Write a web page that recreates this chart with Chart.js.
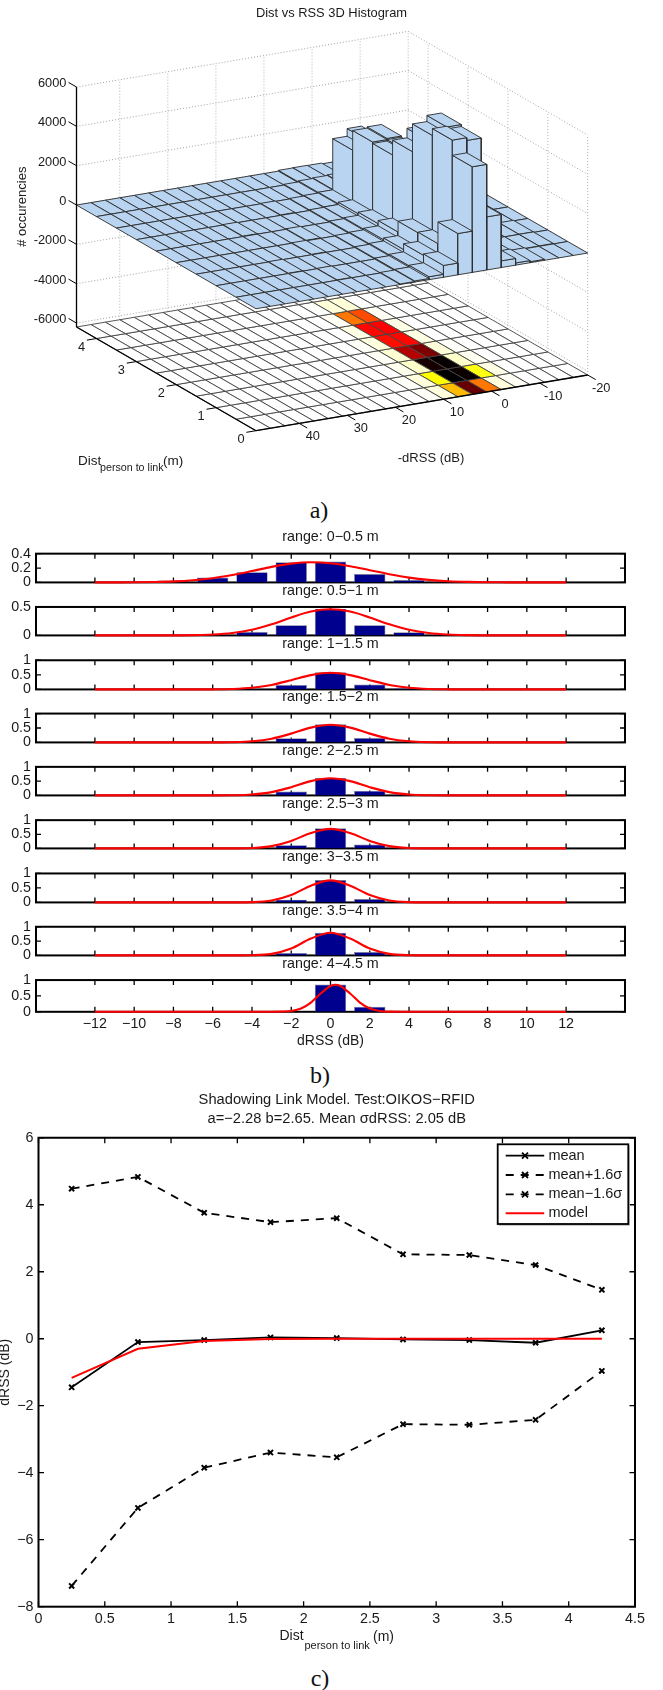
<!DOCTYPE html>
<html><head><meta charset="utf-8">
<script src="https://cdn.jsdelivr.net/npm/chart.js@4"></script>
<style>
html,body{margin:0;padding:0;background:#fff;width:663px;height:1690px;overflow:hidden}
canvas{position:absolute;left:0}
.cap{position:absolute;font:24px "Liberation Serif",serif;color:#111;line-height:28px;transform:translate(-50%,-50%)}
</style></head><body>
<div class="cap" style="left:319px;top:510px">a)</div>
<div class="cap" style="left:320px;top:1075px">b)</div>
<div class="cap" style="left:320px;top:1678px">c)</div>
<script>
/* ---------- panel a: 3D histogram ---------- */
const rBinStart = -20, rBinWidth = 3;           // -dRSS bins (23 columns, dB)
const distBinWidth = 0.5;                       // distance bins (9 rows, m)
const rTicks = [-20,-10,0,10,20,30,40];
const distTicks = [0,1,2,3,4];
const zTicks = [6000,4000,2000,0,-2000,-4000,-6000];
const barRow0 = [0,0,0,50,110,340,2700,5370,2100,600,150,60,30,0,0,0,0,0,0,0,0,0,0];
const barRow1 = [0,25,20,30,70,250,6000,6140,1000,530,120,50,0,0,0,20,0,0,0,0,0,0,0];
const barRow2 = [0,30,25,0,50,180,6100,5790,970,240,90,40,0,0,0,0,0,20,0,0,0,0,0];
const barRow3 = [0,0,0,0,40,130,4860,4380,420,150,70,30,0,0,25,0,0,0,0,0,0,0,0];
const barRow4 = [0,0,0,0,30,100,3700,3630,260,100,50,0,0,30,0,0,0,0,0,0,0,0,0];
const barRow5 = [0,0,0,0,0,70,3760,3700,180,60,40,0,0,0,0,0,25,0,0,0,0,0,0];
const barRow6 = [0,0,0,0,0,50,3090,2700,100,60,30,0,25,0,0,0,0,0,0,0,0,0,0];
const barRow7 = [0,0,0,0,0,30,150,120,90,40,0,0,0,0,0,0,0,0,0,0,0,0,0];
const barRow8 = [0,0,0,0,0,0,40,50,40,0,0,0,0,0,0,0,0,0,0,0,0,0,0];
const barRows = [barRow0,barRow1,barRow2,barRow3,barRow4,barRow5,barRow6,barRow7,barRow8];
const heatRow0 = [0,0,0,0,60,200,2700,5100,2100,200,40,0,0,0,0,0,0,0,0,0,0,0,0];
const heatRow1 = [0,0,0,0,150,1400,5900,6000,1500,200,30,0,0,0,0,0,0,0,0,0,0,0,0];
const heatRow2 = [0,0,0,0,80,320,5950,5800,320,100,0,0,0,0,0,0,0,0,0,0,0,0,0];
const heatRow3 = [0,0,0,0,30,220,4900,4400,260,60,0,0,0,0,0,0,0,0,0,0,0,0,0];
const heatRow4 = [0,0,0,0,0,170,3700,3630,200,30,0,0,0,0,0,0,0,0,0,0,0,0,0];
const heatRow5 = [0,0,0,0,0,140,3760,3700,150,0,0,0,0,0,0,0,0,0,0,0,0,0,0];
const heatRow6 = [0,0,0,0,0,60,3090,2700,60,0,0,0,0,0,0,0,0,0,0,0,0,0,0];
const heatRow7 = [0,0,0,0,0,0,220,220,15,0,0,0,0,0,0,0,0,0,0,0,0,0,0];
const heatRow8 = [0,0,0,0,0,0,0,0,0,0,0,0,0,0,0,0,0,0,0,0,0,0,0];
const heatRows = [heatRow0,heatRow1,heatRow2,heatRow3,heatRow4,heatRow5,heatRow6,heatRow7,heatRow8];

/* ---------- panel b: histograms per distance range ---------- */
const rangeTitles = ['range: 0−0.5 m','range: 0.5−1 m','range: 1−1.5 m','range: 1.5−2 m','range: 2−2.5 m','range: 2.5−3 m','range: 3−3.5 m','range: 3.5−4 m','range: 4−4.5 m'];
const binCenters = [-12,-10,-8,-6,-4,-2,0,2,4,6,8,10,12];
const hist1 = [.004,.006,.028,.067,.143,.28,.29,.118,.034,.008,.003,0,0];
const hist2 = [.004,0,.003,.025,.06,.18,.47,.18,.055,.02,.003,0,0];
const hist3 = [0,0,0,.01,.03,.15,.585,.17,.05,.01,0,0,0];
const hist4 = [0,0,0,0,.01,.147,.63,.15,.015,0,0,0,0];
const hist5 = [0,0,0,0,.02,.137,.61,.158,.05,0,0,0,0];
const hist6 = [0,0,0,0,.01,.115,.715,.137,.01,0,0,0,0];
const hist7 = [0,0,0,0,0,.095,.77,.115,.01,0,0,0,0];
const hist8 = [0,0,0,0,0,.085,.79,.115,.01,0,0,0,0];
const hist9 = [0,0,0,0,0,0,.86,.16,0,0,0,0,0];
const histograms = [hist1,hist2,hist3,hist4,hist5,hist6,hist7,hist8,hist9];
const fitX = [-12,-11,-10,-9,-8,-7,-6,-5,-4,-3,-2,-1,0,1,2,3,4,5,6,7,8,9,10,11,12];
const fit1 = [0,.001,.002,.006,.014,.031,.059,.103,.158,.216,.261,.28,.266,.226,.17,.114,.067,.035,.016,.007,.0025,.001,0,0,0];
const fit2 = [0,0,0,0,.001,.0045,.015,.043,.101,.196,.315,.419,.46,.419,.315,.196,.101,.043,.015,.0045,.001,0,0,0,0];
const fit3 = [0,0,0,0,0,.0005,.003,.015,.055,.153,.318,.49,.57,.49,.318,.153,.055,.015,.003,.0005,0,0,0,0,0];
const fit4 = [0,0,0,0,0,0,.001,.008,.039,.129,.305,.513,.61,.513,.305,.129,.039,.008,.001,0,0,0,0,0,0];
const fit5 = [0,0,0,0,0,0,.001,.006,.032,.115,.288,.5,.6,.5,.288,.115,.032,.006,.001,0,0,0,0,0,0];
const fit6 = [0,0,0,0,0,0,0,.002,.015,.081,.266,.544,.69,.544,.266,.081,.015,.002,0,0,0,0,0,0,0];
const fit7 = [0,0,0,0,0,0,0,.001,.0095,.065,.254,.578,.76,.578,.254,.065,.0095,.001,0,0,0,0,0,0,0];
const fit8 = [0,0,0,0,0,0,0,0,.007,.055,.242,.588,.79,.588,.242,.055,.007,0,0,0,0,0,0,0,0];
const fit9X = [-12,-4,-3,-2.5,-2,-1.5,-1,-.5,0,.25,.5,1,1.5,2,2.5,3,4,12];
const fit9 = [0,0,0,.005,.026,.102,.289,.576,.814,.85,.814,.576,.289,.102,.026,.005,0,0];
const fits = [fit1,fit2,fit3,fit4,fit5,fit6,fit7,fit8,fit9];
const binXTicks = [-12,-10,-8,-6,-4,-2,0,2,4,6,8,10,12];
const yMaxes = [.4,.5,1,1,1,1,1,1,1];
const yTickSets = [[0,.2,.4],[0,.5],[0,.5,1],[0,.5,1],[0,.5,1],[0,.5,1],[0,.5,1],[0,.5,1],[0,.5,1]];

/* ---------- panel c: link model ---------- */
const distCenters = [.25,.75,1.25,1.75,2.25,2.75,3.25,3.75,4.25];
const meanValues = [-1.45,-.1,-.04,.04,.02,-.02,-.04,-.12,.25];
const upperValues = [4.48,4.83,3.76,3.48,3.6,2.52,2.5,2.2,1.46];
const lowerValues = [-7.38,-5.05,-3.85,-3.4,-3.54,-2.55,-2.57,-2.42,-.96];
const modelValues = [-1.17,-.3,-.07,-.01,0,0,0,0,0];
const cXTicks = [0,.5,1,1.5,2,2.5,3,3.5,4,4.5];
const cYTicks = [-8,-6,-4,-2,0,2,4,6];

/* ---------- shared ---------- */
const FONT = '"Liberation Sans",Arial,sans-serif';
const INK = '#1a1a1a';
Chart.defaults.font.family = FONT;
Chart.defaults.color = INK;
Chart.defaults.animation = false;
const minus = v => String(v).replace('-', '−');
function txt(ctx,s,x,y,size,align){ctx.save();ctx.font=size+'px '+FONT;ctx.fillStyle=INK;ctx.textAlign=align||'left';ctx.textBaseline='middle';ctx.fillText(s,x,y);ctx.restore();}
function addCanvas(top,h){const c=document.createElement('canvas');c.width=663;c.height=h;c.style.top=top+'px';c.style.width='663px';c.style.height=h+'px';document.body.appendChild(c);return c;}

/* plugin: MATLAB style box with inward ticks on all sides */
const boxTicks = {id:'boxTicks',beforeDatasetsDraw(chart,a,o){
  const {ctx,chartArea:{left,right,top,bottom}}=chart,sx=chart.scales.x,sy=chart.scales.y,t=o.len;
  ctx.save();ctx.strokeStyle='#000';ctx.lineWidth=o.lw;ctx.strokeRect(left,top,right-left,bottom-top);
  ctx.lineWidth=1.3;ctx.beginPath();
  sx.ticks.forEach(k=>{const p=sx.getPixelForValue(k.value);ctx.moveTo(p,top);ctx.lineTo(p,top+t);ctx.moveTo(p,bottom);ctx.lineTo(p,bottom-t);});
  sy.ticks.forEach(k=>{const p=sy.getPixelForValue(k.value);ctx.moveTo(left,p);ctx.lineTo(left+t,p);ctx.moveTo(right,p);ctx.lineTo(right-t,p);});
  ctx.stroke();ctx.restore();}};

/* ---------- panel a chart ---------- */
const rMax = rBinStart + rBinWidth*barRow0.length;
const distMax = distBinWidth*barRows.length, zFloor = -6200;
function P(d,r,z){return {x:256+(rMax-r)*(331.7/69)-d*(179.5/4.5), y:430.7-(rMax-r)*(55.7/69)-d*(103.7/4.5)-(z-zFloor)*0.01967};}
function heatColor(v){const t=v/6000;
  if(t<=.25){return `rgb(255,255,${Math.round(255*(1-t/.25))})`;}
  if(t<=.625){return `rgb(255,${Math.round(255*(1-(t-.25)/.375))},0)`;}
  return `rgb(${Math.round(255*(1-(t-.625)/.375))},0,0)`;}
const BLUE='#b9d4f0',EDGE='#2a2a2a';
const layers=[];
function poly(pts,fill,edge,w){layers.push({data:[...pts,pts[0]],showLine:true,fill:'shape',backgroundColor:fill,borderColor:edge,borderWidth:w,pointRadius:0,tension:0});}
function seg(a,b,col,w,dash){layers.push({data:[a,b],showLine:true,fill:false,borderColor:col,borderWidth:w,borderDash:dash||[],pointRadius:0,tension:0});}
const DOT=[1,2];
// walls
zTicks.forEach(z=>{seg(P(distMax,rMax,z),P(distMax,rBinStart,z),'#999',.9,DOT);seg(P(distMax,rBinStart,z),P(0,rBinStart,z),'#999',.9,DOT);});
rTicks.forEach(r=>seg(P(distMax,r,zFloor),P(distMax,r,6000),'#aaa',.9,DOT));
distTicks.forEach(d=>seg(P(d,rBinStart,zFloor),P(d,rBinStart,6000),'#aaa',.9,DOT));
// heat floor
heatRows.forEach((row,i)=>row.forEach((v,c)=>{const d0=i*distBinWidth,d1=d0+distBinWidth,r0=rBinStart+c*rBinWidth,r1=r0+rBinWidth;
  poly([P(d0,r0,zFloor),P(d0,r1,zFloor),P(d1,r1,zFloor),P(d1,r0,zFloor)],heatColor(v),'#444',.9);}));
// bars, back to front
for(let i=barRows.length-1;i>=0;i--){const row=barRows[i];
  row.forEach((v,c)=>{const d0=i*distBinWidth,d1=d0+distBinWidth,r0=rBinStart+c*rBinWidth,r1=r0+rBinWidth;
    if(v>0){poly([P(d0,r1,0),P(d1,r1,0),P(d1,r1,v),P(d0,r1,v)],BLUE,EDGE,.9);
            poly([P(d0,r0,0),P(d0,r1,0),P(d0,r1,v),P(d0,r0,v)],BLUE,EDGE,.9);}
    poly([P(d0,r0,v),P(d0,r1,v),P(d1,r1,v),P(d1,r0,v)],BLUE,EDGE,.9);});}
// axes
seg(P(distMax,rMax,6000),P(distMax,rMax,zFloor),'#000',1.3);
seg(P(distMax,rMax,zFloor),P(0,rMax,zFloor),'#000',1.3);
seg(P(0,rMax,zFloor),P(0,rBinStart,zFloor),'#000',1.3);
zTicks.forEach(z=>seg(P(distMax,rMax,z),P(distMax+.2,rMax,z),'#000',1));
distTicks.forEach(d=>seg(P(d,rMax,zFloor),P(d,rMax+2,zFloor),'#000',1));
rTicks.forEach(r=>seg(P(0,r,zFloor),P(-.2,r,zFloor),'#000',1));
const labels3D={id:'labels3D',afterDraw(chart){const ctx=chart.ctx,sx=chart.scales.x,sy=chart.scales.y;
  const px=p=>({x:sx.getPixelForValue(p.x),y:sy.getPixelForValue(p.y)});
  txt(ctx,'Dist vs RSS 3D Histogram',331.5,13,12.9,'center');
  zTicks.forEach(z=>{const p=px(P(distMax,rMax,z));txt(ctx,String(z),66.4,p.y-3.5,12.8,'right');});
  distTicks.forEach(d=>{const p=px(P(d,rMax,zFloor));txt(ctx,String(d),p.x-15,p.y+9,12.8,'center');});
  rTicks.forEach(r=>{const p=px(P(0,r,zFloor));txt(ctx,String(r),p.x+13.5,p.y+13,12.8,'center');});
  txt(ctx,'-dRSS (dB)',431,458,13,'center');
  txt(ctx,'Dist',78,461,13.5);txt(ctx,'person to link',100,467.7,10.7);txt(ctx,'(m)',163,461,13.5);
  ctx.save();ctx.translate(22,206.7);ctx.rotate(-Math.PI/2);txt(ctx,'# occurencies',0,0,13,'center');ctx.restore();}};
new Chart(addCanvas(0,500),{type:'scatter',data:{datasets:layers.slice().reverse()},plugins:[labels3D],
  options:{responsive:false,devicePixelRatio:1,animation:false,layout:{autoPadding:false,padding:0},
    plugins:{legend:{display:false},tooltip:{enabled:false}},
    scales:{x:{display:false,min:0,max:663},y:{display:false,min:0,max:500,reverse:true}}}});

/* ---------- panel b charts ---------- */
rangeTitles.forEach((title,i)=>{
  const T=553.7+53.3*i, hBox=31.7, last=i===rangeTitles.length-1, titleH=24.8;
  const top=Math.floor(T-titleH), xH=last?37:0;
  const H=Math.ceil(T+hBox+xH+10)-top;
  const padBottom=H-(T+hBox-top)-xH, padTop=T-titleH-top;
  const fitXs=i===8?fit9X:fitX;
  new Chart(addCanvas(top,H),{type:'bar',
    data:{datasets:[
      {type:'line',order:0,data:fitXs.map((x,k)=>({x,y:fits[i][k]})),borderColor:'#ff0000',borderWidth:2.1,pointRadius:0,cubicInterpolationMode:'monotone',clip:false},
      {type:'bar',order:1,data:binCenters.map((x,k)=>({x,y:histograms[i][k]})),backgroundColor:'#00008f',borderColor:'#80808f',borderWidth:.7,barPercentage:.8,categoryPercentage:1}
    ]},
    plugins:[boxTicks],
    options:{responsive:false,devicePixelRatio:1,animation:false,
      layout:{autoPadding:false,padding:{left:0,right:38,top:padTop,bottom:padBottom}},
      plugins:{legend:{display:false},tooltip:{enabled:false},boxTicks:{len:5,lw:2},
        title:{display:true,fullSize:false,text:title,color:INK,font:{size:14.3,weight:'normal',lineHeight:1.2},padding:{top:0,bottom:7.6}}},
      scales:{
        x:{type:'linear',offset:false,min:-15,max:15,grid:{display:false,drawTicks:false},border:{display:false},
          afterBuildTicks:s=>{s.ticks=binXTicks.map(value=>({value}));},
          afterFit:s=>{s.height=xH;},
          ticks:{display:last,autoSkip:false,maxRotation:0,padding:4,font:{size:14.3},color:INK,callback:v=>minus(v)},
          title:{display:last,text:'dRSS (dB)',color:INK,font:{size:14,lineHeight:1.15},padding:0}},
        y:{min:0,max:yMaxes[i],grid:{display:false,drawTicks:false},border:{display:false},
          afterBuildTicks:s=>{s.ticks=yTickSets[i].map(value=>({value}));},
          afterFit:s=>{s.width=36;},
          ticks:{padding:5,autoSkip:false,font:{size:14.3},color:INK,callback:v=>String(v)}}
      }}});
});

/* ---------- panel c chart ---------- */
const legendLabels=['mean','mean+1.6σ','mean−1.6σ','model'];
const cTop=1091;
const legendC={id:'legendC',afterDatasetsDraw(chart){const ctx=chart.ctx;
  const L=497.7,R=628.3,T=1144.3-cTop,B=1224-cTop;
  ctx.save();ctx.fillStyle='#bbb';ctx.fillRect(L+1,T+1,R-L+.5,B-T+.8);ctx.fillStyle='#fff';ctx.fillRect(L,T,R-L,B-T);
  ctx.strokeStyle='#000';ctx.lineWidth=1.8;ctx.strokeRect(L,T,R-L,B-T);
  [1155.7,1175,1194.3,1213.3].forEach((yy,i)=>{const y=yy-cTop,ds=chart.data.datasets.find(d=>d.label===legendLabels[i]);
    ctx.strokeStyle=ds.borderColor;ctx.lineWidth=ds.borderWidth;ctx.setLineDash(ds.borderDash||[]);
    ctx.beginPath();ctx.moveTo(505.7,y);ctx.lineTo(544.2,y);ctx.stroke();ctx.setLineDash([]);
    if(ds.pointRadius){ctx.lineWidth=1.8;ctx.strokeStyle='#000';ctx.beginPath();
      ctx.moveTo(522,y-3);ctx.lineTo(528,y+3);ctx.moveTo(528,y-3);ctx.lineTo(522,y+3);ctx.stroke();}
    txt(ctx,legendLabels[i],548.4,y,14.5);});
  ctx.restore();},
  afterDraw(chart){const ctx=chart.ctx;
    txt(ctx,'Dist',279.5,1635.7-cTop,14);txt(ctx,'person to link',304.4,1645.7-cTop,11);txt(ctx,'(m)',373,1637-cTop,14);}};
const cPts=a=>distCenters.map((x,k)=>({x,y:a[k]}));
const lineC=(label,vals,color,dash,marker,w)=>({label,data:cPts(vals),borderColor:color,borderWidth:w,borderDash:dash,tension:0,
  pointStyle:'crossRot',pointRadius:marker?3.6:0,pointBorderColor:color,pointBorderWidth:2,pointBackgroundColor:color});
new Chart(addCanvas(cTop,575),{type:'line',
  data:{datasets:[lineC('model',modelValues,'#ff0000',[],false,1.9),lineC('mean',meanValues,'#000',[],true,1.8),
    lineC('mean+1.6σ',upperValues,'#000',[8,7],true,1.8),lineC('mean−1.6σ',lowerValues,'#000',[8,7],true,1.8)]},
  plugins:[boxTicks,legendC],
  options:{responsive:false,devicePixelRatio:1,animation:false,
    layout:{autoPadding:false,padding:{left:0,right:28,top:0,bottom:19.3}},
    plugins:{legend:{display:false},tooltip:{enabled:false},boxTicks:{len:5.5,lw:2},
      title:{display:true,fullSize:false,text:['Shadowing Link Model. Test:OIKOS−RFID','a=−2.28 b=2.65. Mean σdRSS: 2.05 dB'],color:INK,font:{size:14.7,weight:'normal',lineHeight:1.25},padding:{top:0,bottom:10}}},
    scales:{
      x:{type:'linear',min:0,max:4.5,grid:{display:false,drawTicks:false},border:{display:false},
        afterBuildTicks:s=>{s.ticks=cXTicks.map(value=>({value}));},afterFit:s=>{s.height=40;},
        ticks:{autoSkip:false,maxRotation:0,padding:4,font:{size:14.3},color:INK,callback:v=>String(v)}},
      y:{min:-8,max:6,grid:{display:false,drawTicks:false},border:{display:false},
        afterBuildTicks:s=>{s.ticks=cYTicks.map(value=>({value}));},afterFit:s=>{s.width=38.5;},
        ticks:{autoSkip:false,padding:5,font:{size:14.3},color:INK,callback:v=>minus(v)},
        title:{display:true,text:'dRSS (dB)',color:INK,font:{size:14,lineHeight:1.1},padding:{top:-3,bottom:0}}}
    }}});
</script>
</body></html>
